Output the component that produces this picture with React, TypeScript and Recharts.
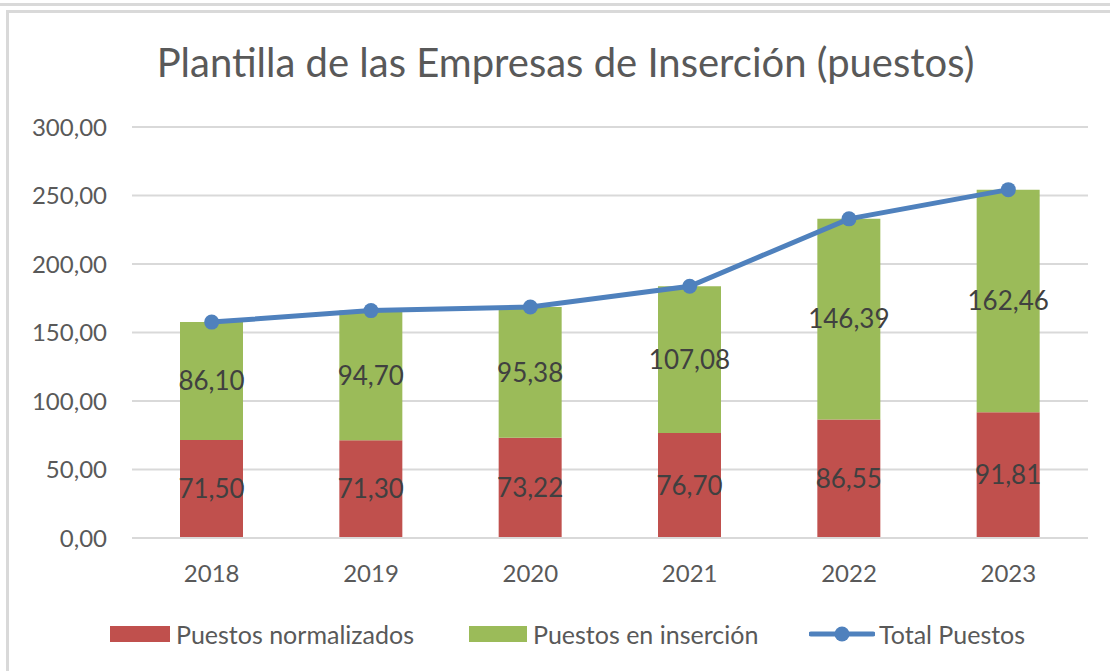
import { ComposedChart, Bar, Line, XAxis, YAxis, CartesianGrid, LabelList } from 'recharts'

const years = ['2018', '2019', '2020', '2021', '2022', '2023']
const normalizados = [71.5, 71.3, 73.22, 76.7, 86.55, 91.81]
const insercion = [86.1, 94.7, 95.38, 107.08, 146.39, 162.46]
const totales = [157.6, 166.0, 168.6, 183.78, 232.94, 254.27]
const yTicks = [0, 50, 100, 150, 200, 250, 300]

const data = years.map((year, i) => ({
  year,
  normalizados: normalizados[i],
  insercion: insercion[i],
  total: totales[i],
}))

const RED = '#C0504D'
const GREEN = '#9BBB59'
const BLUE = '#4F81BD'
const FONT = 'Lato, "Open Sans", sans-serif'

const fmt = (v: any) => Number(v).toFixed(2).replace('.', ',')

function LegendRow() {
  const item = { display: 'flex', alignItems: 'center', position: 'absolute' as const, top: 619 }
  const text = { fontSize: 25, color: '#595959', marginLeft: 6 }
  return (
    <>
      <div style={{ ...item, left: 110 }}>
        <div style={{ width: 60, height: 16, background: RED }} />
        <span style={text}>Puestos normalizados</span>
      </div>
      <div style={{ ...item, left: 469 }}>
        <div style={{ width: 58, height: 16, background: GREEN }} />
        <span style={text}>Puestos en inserción</span>
      </div>
      <div style={{ ...item, left: 809 }}>
        <svg width={66} height={20}>
          <line x1={2} y1={10} x2={64} y2={10} stroke={BLUE} strokeWidth={5} strokeLinecap="round" />
          <circle cx={33} cy={10} r={7.5} fill={BLUE} />
        </svg>
        <span style={{ ...text, marginLeft: 4 }}>Total Puestos</span>
      </div>
    </>
  )
}

export default function App() {
  return (
    <div
      style={{
        position: 'absolute',
        left: 0,
        top: 0,
        width: 1110,
        height: 671,
        background: '#fff',
        overflow: 'hidden',
        fontFamily: FONT,
      }}
    >
      <div style={{ position: 'absolute', left: 0, top: 3, width: 1110, height: 3, background: '#d9d9d9' }} />
      <div
        style={{
          position: 'absolute',
          left: 6,
          top: 10,
          width: 1200,
          height: 800,
          border: '3px solid #d9d9d9',
          boxSizing: 'border-box',
        }}
      />
      <div
        style={{
          position: 'absolute',
          left: 0,
          width: 1131,
          top: 38,
          textAlign: 'center',
          fontSize: 40,
          color: '#595959',
          whiteSpace: 'nowrap',
        }}
      >
        Plantilla de las Empresas de Inserción (puestos)
      </div>
      <div style={{ position: 'absolute', left: 0, top: 0 }}>
        <ComposedChart
          width={1110}
          height={671}
          data={data}
          margin={{ top: 127, right: 22, left: 8, bottom: 93 }}
          barSize={63}
        >
          <CartesianGrid vertical={false} stroke="#d9d9d9" strokeWidth={2} />
          <XAxis
            dataKey="year"
            axisLine={{ stroke: '#d9d9d9', strokeWidth: 2 }}
            tickLine={false}
            tickSize={0}
            tickMargin={27}
            height={40}
            tick={{ fill: '#595959', fontSize: 24, fontFamily: FONT }}
          />
          <YAxis
            domain={[0, 300]}
            ticks={yTicks}
            axisLine={false}
            tickLine={false}
            tickSize={0}
            tickMargin={25}
            width={124}
            tickFormatter={fmt}
            tick={{ fill: '#595959', fontSize: 24, fontFamily: FONT }}
          />
          <Bar dataKey="normalizados" stackId="a" fill={RED} isAnimationActive={false}>
            <LabelList dataKey="normalizados" position="center" formatter={fmt} fill="#404040" fontSize={26} fontFamily={FONT} />
          </Bar>
          <Bar dataKey="insercion" stackId="a" fill={GREEN} isAnimationActive={false}>
            <LabelList dataKey="insercion" position="center" formatter={fmt} fill="#404040" fontSize={26} fontFamily={FONT} />
          </Bar>
          <Line
            dataKey="total"
            stroke={BLUE}
            strokeWidth={5}
            dot={{ r: 7.5, fill: BLUE, stroke: BLUE, strokeWidth: 0 }}
            activeDot={false}
            isAnimationActive={false}
          />
        </ComposedChart>
      </div>
      <LegendRow />
    </div>
  )
}
